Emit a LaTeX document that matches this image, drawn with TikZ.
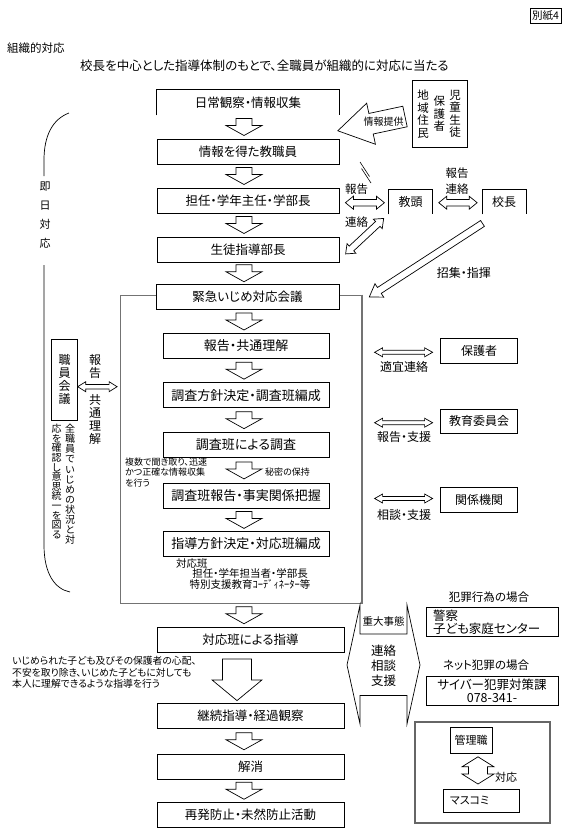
\documentclass[tikz,border=0pt]{standalone}
\usepackage{fontspec}
\setmainfont{Noto Sans CJK JP}[RawFeature={+palt}]
\usetikzlibrary{calc}

\tikzset{
  hollow/.style={draw, fill=white, line width=0.7pt, line join=miter},
  pics/dnarr/.style args={#1/#2/#3/#4}{code={
    \draw[hollow] (-#3,0) -- (#3,0) -- (#3,#1-#4) -- (#2,#1-#4) -- (0,#1)
      -- (-#2,#1-#4) -- (-#3,#1-#4) -- cycle;}},
  pics/sglarr/.style args={#1/#2/#3/#4}{code={
    \draw[hollow] (0,-#3) -- (#1-#4,-#3) -- (#1-#4,-#2) -- (#1,0) -- (#1-#4,#2)
      -- (#1-#4,#3) -- (0,#3) -- cycle;}},
  pics/dblarr/.style args={#1/#2/#3/#4}{code={
    \draw[hollow] (0,0) -- (#4,-#2) -- (#4,-#3) -- (#1-#4,-#3) -- (#1-#4,-#2) -- (#1,0)
      -- (#1-#4,#2) -- (#1-#4,#3) -- (#4,#3) -- (#4,#2) -- cycle;}},
}

\begin{document}
\begin{tikzpicture}[
  x=1pt, y=-1pt,
  box/.style={draw, fill=white, line width=0.8pt, minimum height=25, inner sep=2pt,
    font=\fontsize{12.5}{14}\selectfont},
  ibox/.style={box, minimum width=166, font=\fontsize{13}{14}\selectfont},
  sbox/.style={box, minimum width=76.6, font=\fontsize{12}{14}\selectfont},
  lbl/.style={inner sep=0pt, font=\fontsize{12}{14}\selectfont},
  note/.style={inner sep=0pt, align=left, font=\fontsize{9}{10.5}\selectfont},
  tate/.style={inner sep=0pt, align=center, font=\fontsize{12}{13}\selectfont},
  waku/.style={draw=black!55, line width=0.8pt, inner sep=0pt},
  shadow/.style={draw=black!55, line width=1.8pt}
]
\useasboundingbox (0,0) rectangle (568,838);
\coordinate (ax) at (244,0);

% ---------------- header ----------------
\node[draw, line width=0.6pt, minimum width=31, minimum height=15, inner sep=0pt,
  font=\fontsize{10.5}{11}\selectfont] (bessi) at (545.5,15.5) {別紙4};
\node[lbl, anchor=west, font=\fontsize{11.5}{13}\selectfont] (soshiki) at (7,48) {組織的対応};
\node[lbl, anchor=west, font=\fontsize{12.5}{14}\selectfont] (shushi) at (80,66)
  {校長を中心とした指導体制のもとで、全職員が組織的に対応に当たる};

% ---------------- first response ----------------
\node[box, draw=none, minimum width=182] (nichijo) at (248,102.5) {日常観察・情報収集};
\draw[line width=0.8pt] (nichijo.south west) |- (nichijo.north east) -- (nichijo.south east);
\node[box, minimum width=182] (joho) at (248,151.5) {情報を得た教職員};
\node[box, minimum width=182] (tannin) at (248,200.5) {担任・学年主任・学部長};
\node[box, minimum width=182] (seito) at (248,249.5) {生徒指導部長};

\pic at ($(ax |- nichijo.south)!.5!(ax |- joho.north)+(0,-8.5)$) {dnarr=17/18/8/10};
\pic at ($(ax |- joho.south)!.5!(ax |- tannin.north)+(0,-8.5)$) {dnarr=17/18/8/10};
\pic at ($(ax |- tannin.south)!.5!(ax |- seito.north)+(0,-8.5)$) {dnarr=17/18/8/10};

% informants
\node[draw, line width=0.8pt, minimum width=54.6, minimum height=67.3, inner sep=0pt]
  (jumin) at (440,113.7) {};
\node[tate, font=\fontsize{11.5}{12.5}\selectfont] (jido) at (455,114) {児\\童\\生\\徒};
\node[tate, font=\fontsize{11.5}{12.5}\selectfont] (hogo) at (439.3,114) {保\\護\\者};
\node[tate, font=\fontsize{11.5}{12.5}\selectfont] (chiiki) at (423,114) {地\\域\\住\\民};
\pic[rotate=192] at (405,116.5) {sglarr=68.7/21/10.5/34};
\node[lbl, font=\fontsize{10}{12}\selectfont] (teikyo) at (383.5,122) {情報提供};

\draw[line width=0.6pt] (360,162) -- (369.5,176.5) (361.5,168.5) -- (371,183);

% vice principal and principal
\node[box, draw=none, minimum width=43.3, minimum height=24.7, font=\fontsize{12}{14}\selectfont]
  (kyoto) at (410.7,201.7) {教頭};
\draw[line width=0.8pt] (kyoto.south west) |- (kyoto.north east) -- (kyoto.south east);
\node[box, draw=none, minimum width=43.4, minimum height=24.7, font=\fontsize{12}{14}\selectfont]
  (kocho) at (504,201.7) {校長};
\draw[line width=0.8pt] (kocho.south west) |- (kocho.north east) -- (kocho.south east);

\pic at ($(tannin.east |- kyoto)+(6,1)$) {dblarr=39/6.5/3.3/8};
\pic at ($(kyoto.east)+(6,1)$) {dblarr=38.4/6.5/3.3/8};
\pic[rotate=223] at ($(kyoto.south west)+(-5,4)$) {dblarr=52/6.5/3.3/8};
\node[lbl, font=\fontsize{11.5}{13}\selectfont] (hokoku1) at (356.5,189.3) {報告};
\node[lbl, font=\fontsize{11.5}{13}\selectfont] (renraku1) at (356.5,221.7) {連絡};
\node[lbl, align=center, font=\fontsize{11.5}{16.5}\selectfont] (hokoku2) at (457,181) {報告\\連絡};

\pic[rotate=213] at ($(kocho.south)+(-21.5,9)$) {sglarr=135/8/3.5/12};
\node[lbl] (shoshu) at (463.8,273.3) {招集・指揮};

% bracket: same-day response
\draw[line width=0.7pt] (69,113) .. controls (53,119) and (44,135) .. (44,160) -- (44,176);
\draw[line width=0.7pt] (44,265) -- (44,545) .. controls (44,574) and (55,589) .. (70,592);
\node[tate, font=\fontsize{11}{19.2}\selectfont] (sokujitsu) at (45,215) {即\\日\\対\\応};

% ---------------- emergency meeting ----------------
\node[waku, minimum width=241.5, minimum height=308] (wakukaigi) at (240.75,449) {};
\draw[shadow] (wakukaigi.north east) -- (wakukaigi.south east) -- (wakukaigi.south west);
\node[box, minimum width=183] (kinkyu) at (247.5,297) {緊急いじめ対応会議};
\pic at ($(ax |- seito.south)!.5!(ax |- kinkyu.north)+(0,-8.5)$) {dnarr=17/18/8/10};

\node[ibox] (kyotsu) at (246,346) {報告・共通理解};
\node[ibox] (hoshin) at (246,395.3) {調査方針決定・調査班編成};
\node[ibox] (chosa) at (246,445) {調査班による調査};
\node[ibox] (chosahokoku) at (246,495.8) {調査班報告・事実関係把握};
\node[ibox] (shido) at (246,544) {指導方針決定・対応班編成};

\pic at ($(ax |- kinkyu.south)!.5!(ax |- kyotsu.north)+(0,-8.5)$) {dnarr=17/18/8/10};
\pic at ($(ax |- kyotsu.south)!.5!(ax |- hoshin.north)+(0,-8.5)$) {dnarr=17/18/8/10};
\pic at ($(ax |- hoshin.south)!.5!(ax |- chosa.north)+(0,-8.5)$) {dnarr=17/18/8/10};
\pic at ($(ax |- chosa.south)!.5!(ax |- chosahokoku.north)+(0,-8.5)$) {dnarr=17/18/8/10};
\pic at ($(ax |- chosahokoku.south)!.5!(ax |- shido.north)+(0,-8.5)$) {dnarr=17/18/8/10};

\node[note, anchor=north west] (kikitori) at (125,457.5)
  {複数で聞き取り、迅速\\かつ正確な情報収集\\を行う};
\node[note, anchor=west] (himitsu) at (265,472) {秘密の保持};
\node[note, anchor=west, font=\fontsize{10.5}{10.5}\selectfont] (taiohan1) at (176,563.3) {対応班};
\node[note, align=center, font=\fontsize{10.5}{10.5}\selectfont] (taiohan2) at (250,579)
  {担任・学年担当者・学部長\\特別支援教育ｺｰﾃﾞｨﾈｰﾀｰ等};

% staff meeting
\node[box, minimum width=25.6, minimum height=80.7, inner sep=0pt, align=center,
  font=\fontsize{12}{13}\selectfont] (shokuin) at (64.5,379.7) {職\\員\\会\\議};
\pic at ($(shokuin.east)+(0,7)$) {dblarr=39.4/5/2.3/8};
\node[tate] (hokoku3) at (95,366.5) {報\\告};
\node[tate] (kyotsu2) at (95,419) {共\\通\\理\\解};
\node[tate, anchor=north, font=\fontsize{10}{10.1}\selectfont] (ishiki1) at (70,424)
  {全\\職\\員\\で\\い\\じ\\め\\の\\状\\況\\と\\対};
\node[tate, anchor=north, font=\fontsize{10}{9.6}\selectfont] (ishiki2) at (56.7,424)
  {応\\を\\確\\認\\し\\意\\思\\統\\一\\を\\図\\る};

% outside partners
\node[sbox] (hogosha) at (479,350.8) {保護者};
\node[sbox, minimum height=24.3] (kyoiku) at (479,421.2) {教育委員会};
\node[sbox, minimum height=25.4] (kankei) at (479,500) {関係機関};
\pic at ($(hogosha.west)+(-65.7,1.5)$) {dblarr=58/4.5/2/8};
\pic at ($(kyoiku.west)+(-65.7,1.5)$) {dblarr=58/4.5/2/8};
\pic at ($(kankei.west)+(-65.7,-1.5)$) {dblarr=58/4.5/2/8};
\node[lbl] (tekigi) at (404,367.3) {適宜連絡};
\node[lbl] (shien1) at (404,437.3) {報告・支援};
\node[lbl] (shien2) at (404,515) {相談・支援};

% ---------------- guidance ----------------
\node[box, minimum width=187] (taiohan) at (250.5,640) {対応班による指導};
\node[box, minimum width=187] (keizoku) at (250.5,716) {継続指導・経過観察};
\node[box, minimum width=187] (kaisho) at (250.5,766.5) {解消};
\node[box, minimum width=187] (saihatsu) at (250.5,815) {再発防止・未然防止活動};

\pic at ($(ax |- wakukaigi.south)!.5!(ax |- taiohan.north)+(0,-8.5)$) {dnarr=17/18/8/10};
\pic at ($(taiohan.south)+(-13.5,6)$) {dnarr=41.7/25/14.5/20.7};
\pic at ($(ax |- keizoku.south)!.5!(ax |- kaisho.north)+(0,-8.5)$) {dnarr=17/18/8/10};
\pic at ($(ax |- kaisho.south)!.5!(ax |- saihatsu.north)+(0,-8.5)$) {dnarr=17/18/8/10};

\node[note, anchor=north west, font=\fontsize{9.8}{11.5}\selectfont] (kokoro) at (12,656.5)
  {いじめられた子ども及びその保護者の心配、\\不安を取り除き、いじめた子どもに対しても\\本人に理解できるような指導を行う};

% liaison
\draw[line width=0.7pt] (347,665) -- (360,605) -- (360,634) -- (407,634) -- (407,605)
  -- (420,665) -- (407,724) -- (407,695.5) -- (360,695.5) -- (360,724) -- cycle;
\node[lbl, font=\fontsize{10.5}{12}\selectfont] (judai) at (383.5,621) {重大事態};
\node[tate, font=\fontsize{12.5}{15}\selectfont] (renkei) at (383.5,666) {連絡\\相談\\支援};

\node[lbl, font=\fontsize{11.5}{13}\selectfont] (hanzai) at (489,597) {犯罪行為の場合};
\node[box, minimum width=132, minimum height=29.4, align=left, text width=118,
  font=\fontsize{12.5}{13.4}\selectfont] (keisatsu) at (492,622) {警察\\子ども家庭センター};
\node[lbl, font=\fontsize{11.5}{13}\selectfont] (net) at (486,665) {ネット犯罪の場合};
\node[box, minimum width=132, minimum height=29, align=center,
  font=\fontsize{12.5}{13.4}\selectfont] (cyber) at (492,690.5) {サイバー犯罪対策課\\078-341-};

% media
\node[waku, draw=black!60, line width=1.3pt, minimum width=135, minimum height=101] (media) at (482.5,772.5) {};
\node[box, minimum width=42, minimum height=26, font=\fontsize{11}{13}\selectfont] (kanri) at (471,740) {管理職};
\node[box, minimum width=76, minimum height=23.5, align=left, text width=62,
  font=\fontsize{11}{13}\selectfont] (masukomi) at (481,801) {マスコミ};
\pic[rotate=-90] at (478,756.8) {dblarr=27.2/16/9.5/10};
\node[lbl, font=\fontsize{11}{13}\selectfont] (taio) at (506,777.3) {対応};

\end{tikzpicture}
\end{document}
